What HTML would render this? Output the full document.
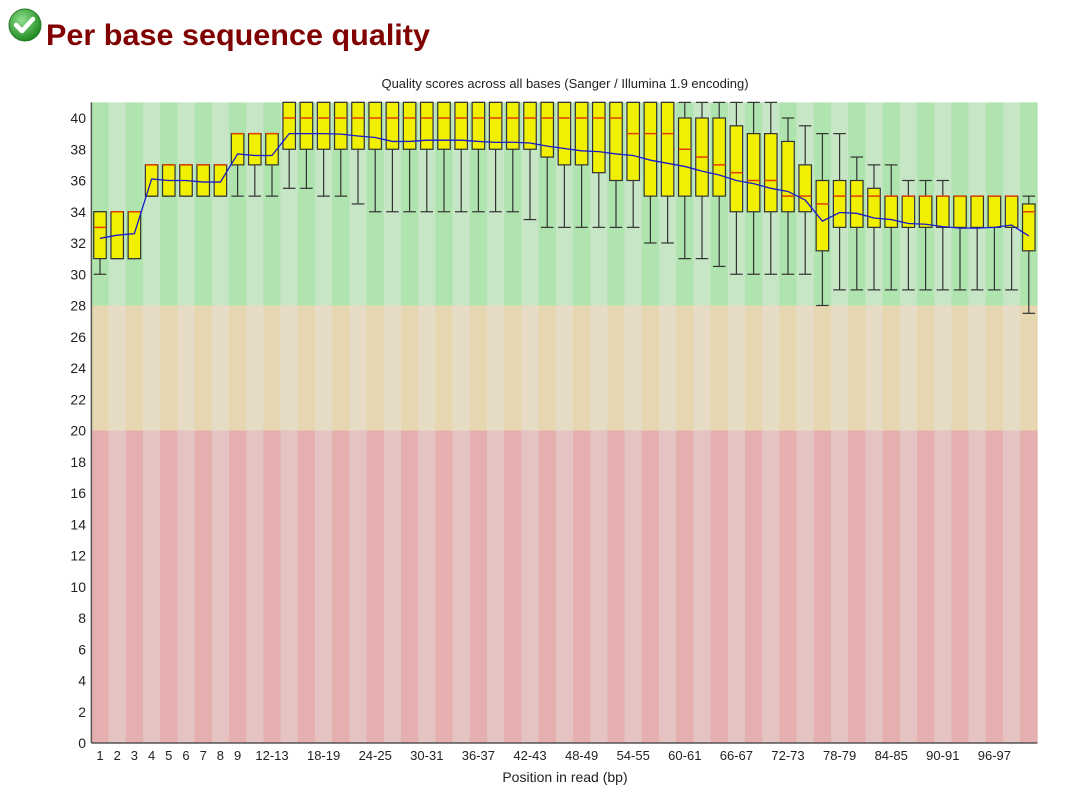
<!DOCTYPE html>
<html><head><meta charset="utf-8"><style>
body{margin:0;background:#fff;}
svg{display:block;font-family:"Liberation Sans","DejaVu Sans",sans-serif;}
</style></head><body>
<svg id="chart" width="1080" height="797" viewBox="0 0 1080 797" xmlns="http://www.w3.org/2000/svg">
<defs><radialGradient id="gi" cx="40%" cy="35%" r="65%"><stop offset="0" stop-color="#8fe08f"/><stop offset="1" stop-color="#1e8a1e"/></radialGradient></defs>
<g>
<circle cx="25" cy="25" r="16" fill="url(#gi)" stroke="#2a7a2a" stroke-width="1"/>
<path d="M16 25 l6 6 l11 -12" fill="none" stroke="#fff" stroke-width="4.5" stroke-linecap="round" stroke-linejoin="round"/>
</g>
<text x="46" y="45" font-size="30" font-weight="bold" fill="#800000" textLength="384" lengthAdjust="spacingAndGlyphs">Per base sequence quality</text>
<text x="565" y="88" font-size="13" text-anchor="middle" fill="#222">Quality scores across all bases (Sanger / Illumina 1.9 encoding)</text>
<g id="bg"></g><g id="marks"></g><g id="axes"></g>
<text x="565" y="782" font-size="14" text-anchor="middle" fill="#222">Position in read (bp)</text>
</svg>
<script>
const categories=["1","2","3","4","5","6","7","8","9","10-11","12-13","14-15","16-17","18-19","20-21","22-23","24-25","26-27","28-29","30-31","32-33","34-35","36-37","38-39","40-41","42-43","44-45","46-47","48-49","50-51","52-53","54-55","56-57","58-59","60-61","62-63","64-65","66-67","68-69","70-71","72-73","74-75","76-77","78-79","80-81","82-83","84-85","86-87","88-89","90-91","92-93","94-95","96-97","98-99","100-101"];
const medians=[33,34,34,37,37,37,37,37,39,39,39,40,40,40,40,40,40,40,40,40,40,40,40,40,40,40,40,40,40,40,40,39,39,39,38,37.5,37,36.5,36,36,35,35,34.5,35,35,35,35,35,35,35,35,35,35,35,34];
const q3=[34,34,34,37,37,37,37,37,39,39,39,41,41,41,41,41,41,41,41,41,41,41,41,41,41,41,41,41,41,41,41,41,41,41,40,40,40,39.5,39,39,38.5,37,36,36,36,35.5,35,35,35,35,35,35,35,35,34.5];
const q1=[31,31,31,35,35,35,35,35,37,37,37,38,38,38,38,38,38,38,38,38,38,38,38,38,38,38,37.5,37,37,36.5,36,36,35,35,35,35,35,34,34,34,34,34,31.5,33,33,33,33,33,33,33,33,33,33,33,31.5];
const p90=[34,34,34,37,37,37,37,37,39,39,39,41,41,41,41,41,41,41,41,41,41,41,41,41,41,41,41,41,41,41,41,41,41,41,41,41,41,41,41,41,40,39.5,39,39,37.5,37,37,36,36,36,35,35,35,35,35];
const p10=[30,31,31,35,35,35,35,35,35,35,35,35.5,35.5,35,35,34.5,34,34,34,34,34,34,34,34,34,33.5,33,33,33,33,33,33,32,32,31,31,30.5,30,30,30,30,30,28,29,29,29,29,29,29,29,29,29,29,29,27.5];
const means=[32.3,32.5,32.6,36.1,36.0,36.0,35.9,35.9,37.7,37.6,37.6,39.0,39.0,39.0,38.97,38.85,38.75,38.5,38.5,38.58,38.58,38.58,38.5,38.44,38.45,38.4,38.2,38.05,37.9,37.85,37.7,37.6,37.3,37.1,36.9,36.6,36.35,36.0,35.8,35.5,35.3,34.75,33.4,33.95,33.9,33.6,33.5,33.25,33.2,33.05,32.95,32.95,33.0,33.15,32.45];
const yTicks=[0,2,4,6,8,10,12,14,16,18,20,22,24,26,28,30,32,34,36,38,40];
const xLabelShown=["1","2","3","4","5","6","7","8","9","12-13","18-19","24-25","30-31","36-37","42-43","48-49","54-55","60-61","66-67","72-73","78-79","84-85","90-91","96-97"];
const NS="http://www.w3.org/2000/svg";
const X0=91.4,CW=17.2,Y0=743,YU=15.625,YMAX=41;
const y=v=>Y0-v*YU;
const xc=i=>X0+(i+0.5)*CW;
function mk(tag,attrs,parent){const e=document.createElementNS(NS,tag);for(const k in attrs)e.setAttribute(k,attrs[k]);parent.appendChild(e);return e;}
const bg=document.getElementById('bg'),marks=document.getElementById('marks'),axes=document.getElementById('axes');
const bands=[[28,YMAX,["#afe4af","#c6e6c6"],'good'],[20,28,["#e6d7b0","#e6dcc6"],'ok'],[0,20,["#e6afaf","#e6c3c3"],'poor']];
bands.forEach(b=>{categories.forEach((c,i)=>{
 const r=mk('rect',{x:X0+i*CW,y:y(b[1]),width:CW+0.3,height:y(b[0])-y(b[1]),fill:b[2][i%2]},bg);
 
 
});});
categories.forEach((c,i)=>{
 const g=mk('g',{},marks);
 
 
 const cx=xc(i),w=12.5;
 mk('line',{x1:cx,x2:cx,y1:y(p90[i]),y2:y(p10[i]),stroke:'#333','stroke-width':1.2},g);
 mk('line',{x1:cx-w/2,x2:cx+w/2,y1:y(p90[i]),y2:y(p90[i]),stroke:'#333','stroke-width':1.2},g);
 mk('line',{x1:cx-w/2,x2:cx+w/2,y1:y(p10[i]),y2:y(p10[i]),stroke:'#333','stroke-width':1.2},g);
 mk('rect',{x:cx-w/2,y:y(q3[i]),width:w,height:y(q1[i])-y(q3[i]),fill:'#f0f000',stroke:'#333','stroke-width':1.2},g);
 mk('line',{x1:cx-w/2,x2:cx+w/2,y1:y(medians[i]),y2:y(medians[i]),stroke:'#e04000','stroke-width':1.5},g);
});
const pts=means.map((m,i)=>xc(i)+','+y(m)).join(' ');
const ml=mk('polyline',{points:pts,fill:'none',stroke:'#1a1acc','stroke-width':1.3},marks);


mk('line',{x1:X0,x2:X0,y1:y(YMAX),y2:Y0,stroke:'#555','stroke-width':1.5},axes);
mk('line',{x1:X0,x2:X0+categories.length*CW,y1:Y0,y2:Y0,stroke:'#555','stroke-width':1.5},axes);
yTicks.forEach(t=>{
 const e=mk('text',{x:86,y:y(t)+5,'font-size':14,'text-anchor':'end',fill:'#222'},axes);
 
 
 e.textContent=t;
});
xLabelShown.forEach(l=>{
 const i=categories.indexOf(l);
 const e=mk('text',{x:xc(i),y:760,'font-size':13,'text-anchor':'middle',fill:'#222'},axes);
 
 
 e.textContent=l;
});
</script>
</body></html>
